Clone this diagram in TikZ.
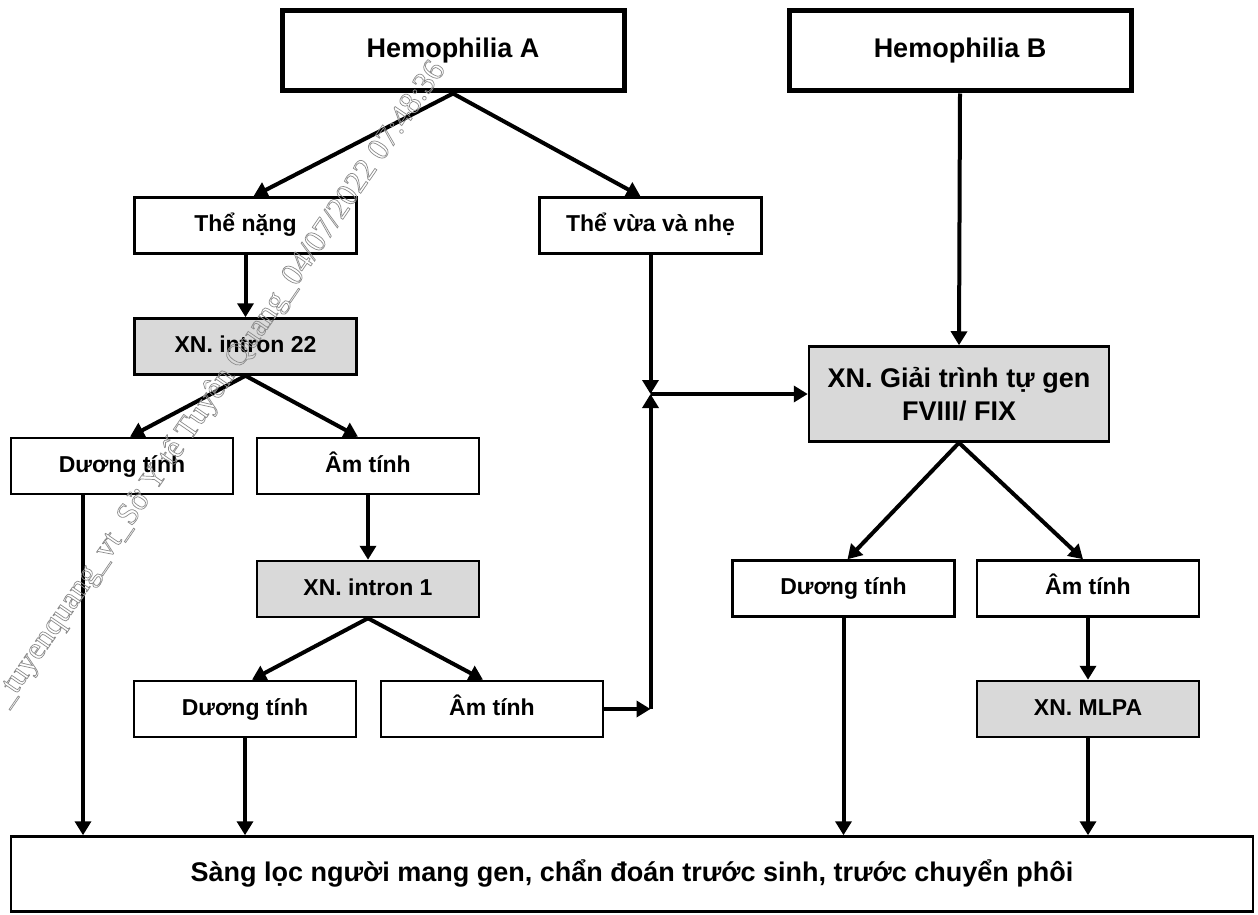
\documentclass[tikz,border=0pt]{standalone}
\usepackage{fontspec}
\setmainfont{Liberation Sans}
\newfontfamily\wmfont{Liberation Serif}
\usetikzlibrary{arrows.meta,calc}
\definecolor{testgray}{HTML}{D9D9D9}

\begin{document}
\begin{tikzpicture}[x=1pt,y=-1pt,
  box/.style={draw, line width=2.5pt, fill=white, minimum width=222pt,
    minimum height=56pt, inner sep=0pt, align=center,
    text height=17pt, text depth=5pt,
    font=\fontsize{23}{27}\selectfont\bfseries},
  testbox/.style={box, fill=testgray},
  bigtext/.style={text height=20pt, text depth=6pt,
    font=\fontsize{27}{32}\selectfont\bfseries},
  headbox/.style={box, bigtext, line width=5pt, minimum width=342pt,
    minimum height=80pt},
  link/.style={line width=4pt, -{Triangle[width=16pt,length=14pt]}}]
\useasboundingbox (0,0) rectangle (1258,915);
\fill[white] (0,0) rectangle (1258,915);

% top level
\node[headbox] (hemA) at (453,51) {Hemophilia A};
\node[headbox] (hemB) at (960,51) {Hemophilia B};

% Hemophilia A branch
\node[box] (nang) at (245.5,225.5) {Thể nặng};
\node[box] (vua) at (650.5,225.5) {Thể vừa và nhẹ};
\node[testbox] (i22) at (245.5,346.5) {XN. intron 22};
\node[box] (duongL) at (122,466) {Dương tính};
\node[box] (amL) at (368,466) {Âm tính};
\node[testbox] (i1) at (368,589) {XN. intron 1};
\node[box] (duongM) at (245,709) {Dương tính};
\node[box] (amM) at (492,709) {Âm tính};

% sequencing branch
\node[testbox, minimum width=300pt, minimum height=95pt,
  text height=, text depth=,
  font=\fontsize{27}{33}\selectfont\bfseries] (giai) at (959,394)
  {XN. Giải trình tự gen\\FVIII/ FIX};
\node[box] (duongR) at (843.5,588.5) {Dương tính};
\node[box] (amR) at (1088,588.5) {Âm tính};
\node[testbox] (mlpa) at (1088,709) {XN. MLPA};

% common outcome
\node[box, bigtext, minimum width=1242pt, minimum height=75pt] (out) at (632,874)
  {Sàng lọc người mang gen, chẩn đoán trước sinh, trước chuyển phôi};

% connectors
\draw[link] (hemA.south) -- ([xshift=8pt]nang.north);
\draw[link] (hemA.south) -- ([xshift=-10pt]vua.north);
\draw[link] (nang.south) -- (i22.north);
\draw[link] (i22.south) -- ([xshift=8pt]duongL.north);
\draw[link] (i22.south) -- ([xshift=-10pt]amL.north);
\draw[link] (amL.south) -- (i1.north);
\draw[link] (i1.south) -- ([xshift=7pt]duongM.north);
\draw[link] (i1.south) -- ([xshift=-9pt]amM.north);

\coordinate (join) at (vua.south |- giai.west);
\coordinate (turn) at (vua.south |- amM.east);
\draw[link] (amM.east) -- (turn);
\draw[link] (turn) -- (join);
\draw[link] (vua.south) -- (join);
\draw[link] (join) -- (giai.west);

\draw[link] (hemB.south) -- (giai.north);
\draw[link] (giai.south) -- ([xshift=4pt]duongR.north);
\draw[link] (giai.south) -- ([xshift=-5pt]amR.north);
\draw[link] (amR.south) -- (mlpa.north);

\draw[link] ([xshift=-39pt]duongL.south) -- ([xshift=-39pt]duongL.south |- out.north);
\draw[link] (duongM.south) -- (duongM.south |- out.north);
\draw[link] (duongR.south) -- (duongR.south |- out.north);
\draw[link] (mlpa.south) -- (mlpa.south |- out.north);

% document stamp across the chart, set as outlined letters
\node[anchor=base west, rotate=55.5, inner sep=0pt, text=black!45,
  font=\wmfont\fontsize{31.6}{31.6}\selectfont] (stamp) at (7,708)
  {\special{pdf:literal direct 1 Tr 0.7 w}\_tuyenquang\_vt\_Sở Y tế Tuyên Quang\_04/07/2022 07:48:36\special{pdf:literal direct 0 Tr}};
\end{tikzpicture}
\end{document}
